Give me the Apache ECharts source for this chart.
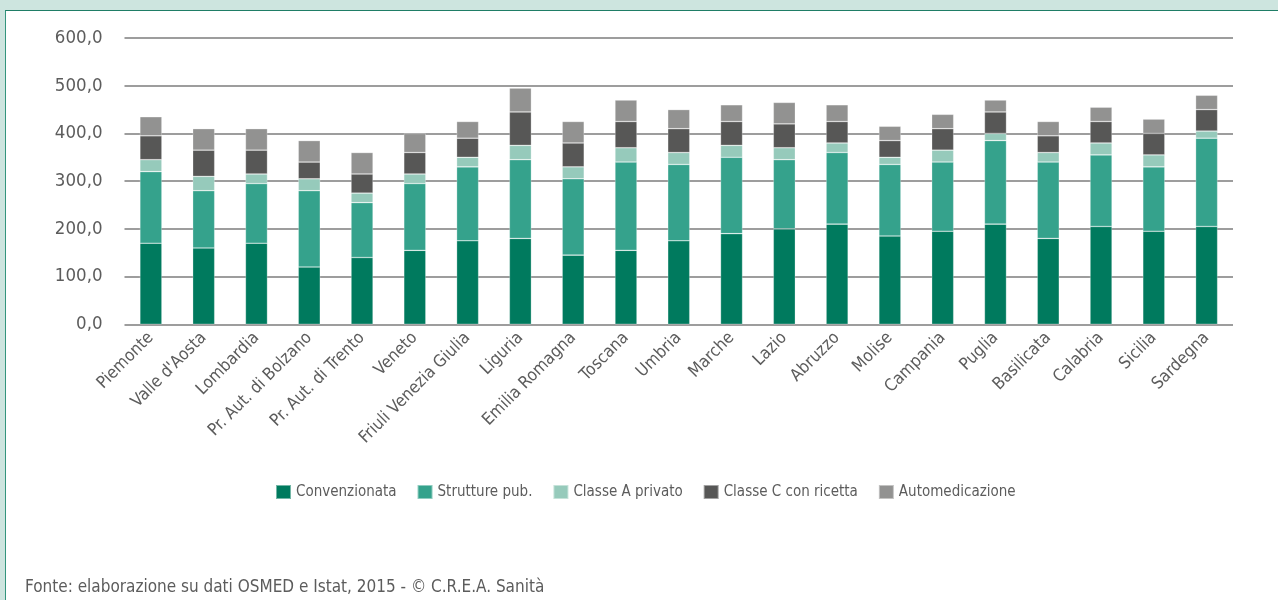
<!DOCTYPE html>
<html>
<head>
<meta charset="utf-8">
<script src="https://cdn.jsdelivr.net/npm/echarts@6/dist/echarts.min.js"></script>
<style>
  html, body { margin: 0; padding: 0; }
  body { width: 1278px; height: 600px; background: #cde5df; position: relative; overflow: hidden; }
  #panel {
    position: absolute; left: 5px; top: 10px; right: 0; bottom: 0;
    background: #ffffff;
    border-top: 1.5px solid #1f7d66;
    border-left: 1.5px solid #33957d;
  }
  #chart { position: absolute; left: 0; top: 0; width: 1278px; height: 600px; }
</style>
</head>
<body>
<div id="panel"></div>
<div id="chart"></div>
<script>
// Regioni
const categories = [
  'Piemonte', "Valle d'Aosta", 'Lombardia', 'Pr. Aut. di Bolzano', 'Pr. Aut. di Trento',
  'Veneto', 'Friuli Venezia Giulia', 'Liguria', 'Emilia Romagna', 'Toscana', 'Umbria',
  'Marche', 'Lazio', 'Abruzzo', 'Molise', 'Campania', 'Puglia', 'Basilicata',
  'Calabria', 'Sicilia', 'Sardegna'
];

// Componenti della spesa farmaceutica pro capite (valori impilati)
const convenzionata = [170, 160, 170, 120, 140, 155, 175, 180, 145, 155, 175, 190, 200, 210, 185, 195, 210, 180, 205, 195, 205];
const strutturePub  = [150, 120, 125, 160, 115, 140, 155, 165, 160, 185, 160, 160, 145, 150, 150, 145, 175, 160, 150, 135, 185];
const classeAPriv   = [ 25,  30,  20,  25,  20,  20,  20,  30,  25,  30,  25,  25,  25,  20,  15,  25,  15,  20,  25,  25,  15];
const classeCRic    = [ 50,  55,  50,  35,  40,  45,  40,  70,  50,  55,  50,  50,  50,  45,  35,  45,  45,  35,  45,  45,  45];
const automedicaz   = [ 40,  45,  45,  45,  45,  40,  35,  50,  45,  45,  40,  35,  45,  35,  30,  30,  25,  30,  30,  30,  30];

const seriesNames = ['Convenzionata', 'Strutture pub.', 'Classe A privato', 'Classe C con ricetta', 'Automedicazione'];
const seriesData  = [convenzionata, strutturePub, classeAPriv, classeCRic, automedicaz];
const colors      = ['#007a5e', '#35a28c', '#96cabb', '#575756', '#929291'];

const yTicks = { min: 0, max: 600, interval: 100 };
const footer = 'Fonte: elaborazione su dati OSMED e Istat, 2015 - © C.R.E.A. Sanità';

const FONT = "'Liberation Sans Narrow', 'DejaVu Sans Condensed', 'Liberation Sans', sans-serif";
const TXT = '#5c5c5c';

const chart = echarts.init(document.getElementById('chart'), null, { renderer: 'canvas' });

chart.setOption({
  backgroundColor: 'transparent',
  animation: false,
  color: colors,
  textStyle: { fontFamily: FONT, color: TXT },
  title: {
    text: footer,
    left: 20,
    top: 574,
    textStyle: { fontFamily: FONT, fontSize: 17, fontWeight: 'normal', color: TXT }
  },
  legend: {
    data: seriesNames,
    left: 270,
    top: 479,
    itemWidth: 15,
    itemHeight: 14,
    itemGap: 20,
    icon: 'rect',
    textStyle: { fontFamily: FONT, fontSize: 15, color: TXT }
  },
  grid: { left: 124.5, right: 45, top: 38, bottom: 275.7, containLabel: false },
  xAxis: {
    type: 'category',
    data: categories,
    axisLine: { show: false },
    axisTick: { show: false },
    axisLabel: {
      rotate: 45,
      interval: 0,
      margin: 11,
      fontFamily: FONT,
      fontSize: 17,
      color: TXT
    }
  },
  yAxis: {
    type: 'value',
    min: yTicks.min,
    max: yTicks.max,
    interval: yTicks.interval,
    axisLine: { show: false },
    axisTick: { show: false },
    axisLabel: {
      margin: 22,
      fontFamily: FONT,
      fontSize: 18.5,
      color: TXT,
      formatter: v => v.toFixed(1).replace('.', ',')
    },
    splitLine: { lineStyle: { color: '#7c7c7c', width: 1.6 } }
  },
  series: seriesNames.map((name, i) => ({
    name,
    type: 'bar',
    stack: 'spesa',
    barWidth: 22,
    data: seriesData[i],
    itemStyle: { color: colors[i], borderColor: 'rgba(255,255,255,0.45)', borderWidth: 0.6 }
  }))
});
</script>
</body>
</html>
